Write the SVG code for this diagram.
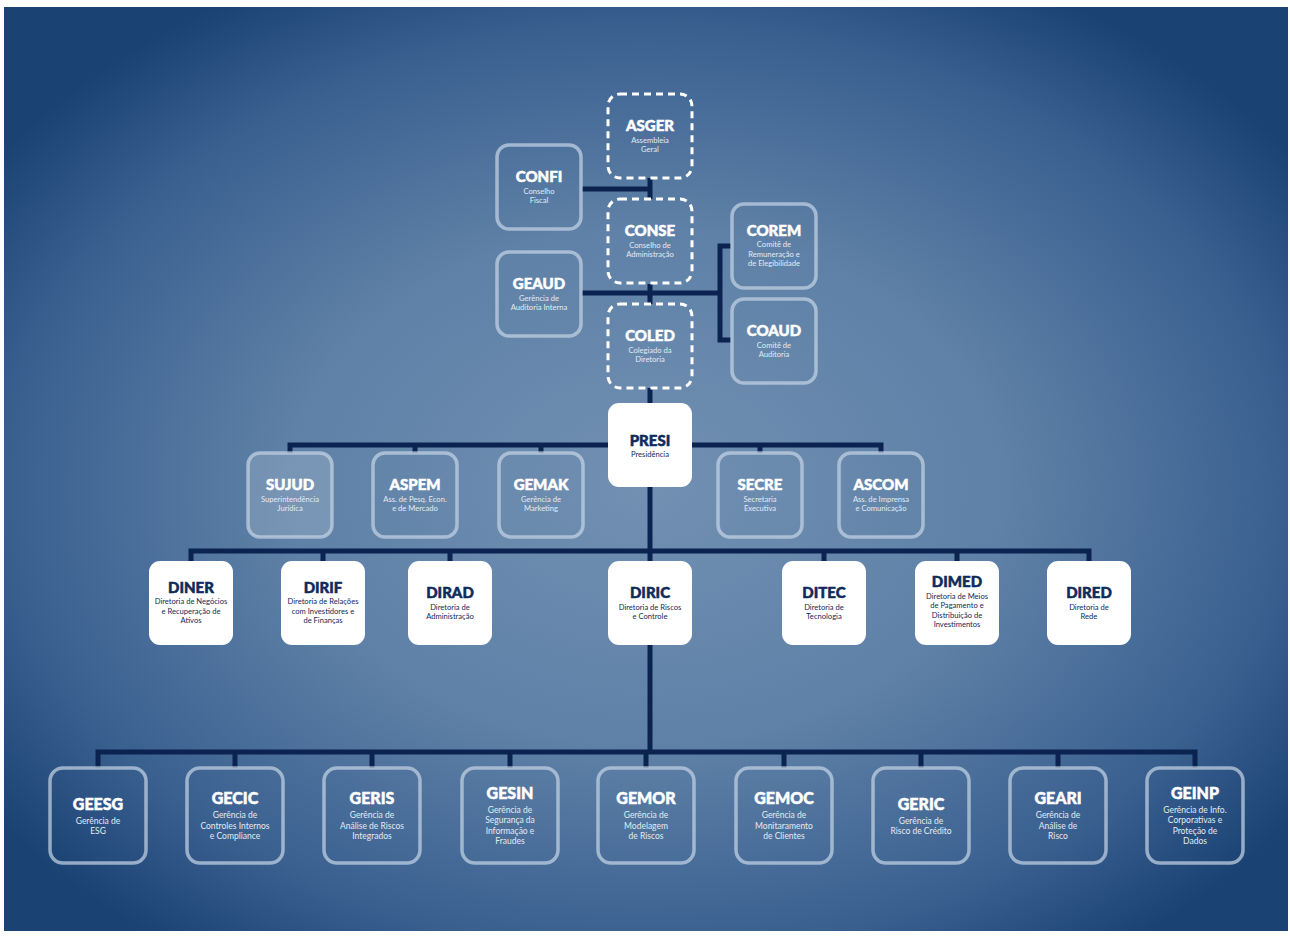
<svg xmlns="http://www.w3.org/2000/svg" width="1290" height="937" viewBox="0 0 1290 937">
<defs>
<radialGradient id="bg" cx="0.5" cy="0.52" r="0.62">
<stop offset="0" stop-color="#7190b2"/>
<stop offset="0.45" stop-color="#5f81a7"/>
<stop offset="0.8" stop-color="#3a6090"/>
<stop offset="1" stop-color="#1a4272"/>
</radialGradient>
<style>
.ob{fill:none;stroke:#c4d2e4;stroke-opacity:.72;stroke-width:3.5}
.lf{fill:#ffffff;fill-opacity:.16}
.db{fill:none;stroke:#ffffff;stroke-width:3;stroke-dasharray:7 5}
.wb{fill:#ffffff}
.t{font-family:Lato,"Open Sans",sans-serif;font-weight:900;font-size:15px;text-anchor:middle;fill:#ffffff;stroke:#ffffff;stroke-width:0.5px}
.tb{font-size:16px}
.s{font-family:Lato,"Open Sans",sans-serif;font-size:7.6px;text-anchor:middle;fill:#e3eaf3}
.sb{font-size:8.5px}
.n{fill:#0f2b5b}
.t.n{stroke:#0f2b5b}
.ln{fill:none;stroke:#0b2350;stroke-width:5}
</style>
</defs>
<rect x="0" y="0" width="1290" height="937" fill="#ffffff"/>
<rect x="4" y="7" width="1284" height="924" fill="url(#bg)"/>

<g id="connectors" class="ln">
<path d="M582 189H650M650 178V199"/>
<path d="M582 293H720M650 284V304"/>
<path d="M731 246H720V340H731"/>
<path d="M650 388V403"/>
<path d="M290 453V445H881V453M415 445V453M541 445V453M760 445V453"/>
<path d="M650 487V561"/>
<path d="M191 561V551H1089V561M323 551V561M450 551V561M824 551V561M957 551V561"/>
<path d="M650 645V752"/>
<path d="M98 768V752H1195V768M235 752V768M372 752V768M510 752V768M646 752V768M784 752V768M921 752V768M1058 752V768"/>
</g>

<g id="ASGER"><rect class="db" x="608" y="94" width="84" height="84" rx="12"/>
<text class="t" x="650" y="131">ASGER</text><text class="s" x="650" y="142.5">Assembleia</text><text class="s" x="650" y="152">Geral</text></g>
<g id="CONFI"><rect class="ob" x="497" y="145" width="84" height="84" rx="12"/>
<text class="t" x="539" y="182">CONFI</text><text class="s" x="539" y="193.5">Conselho</text><text class="s" x="539" y="203">Fiscal</text></g>
<g id="CONSE"><rect class="db" x="608" y="199" width="84" height="84" rx="12"/>
<text class="t" x="650" y="236">CONSE</text><text class="s" x="650" y="247.5">Conselho de</text><text class="s" x="650" y="257">Administração</text></g>
<g id="GEAUD"><rect class="ob" x="497" y="252" width="84" height="84" rx="12"/>
<text class="t" x="539" y="289">GEAUD</text><text class="s" x="539" y="300.5">Gerência de</text><text class="s" x="539" y="310">Auditoria Interna</text></g>
<g id="COLED"><rect class="db" x="608" y="304" width="84" height="84" rx="12"/>
<text class="t" x="650" y="341">COLED</text><text class="s" x="650" y="352.5">Colegiado da</text><text class="s" x="650" y="362">Diretoria</text></g>
<g id="COREM"><rect class="ob" x="732" y="204" width="84" height="84" rx="12"/>
<text class="t" x="774" y="235.5">COREM</text><text class="s" x="774" y="247">Comitê de</text><text class="s" x="774" y="256.5">Remuneração e</text><text class="s" x="774" y="266">de Elegibilidade</text></g>
<g id="COAUD"><rect class="ob" x="732" y="299" width="84" height="84" rx="12"/>
<text class="t" x="774" y="336">COAUD</text><text class="s" x="774" y="347.5">Comitê de</text><text class="s" x="774" y="357">Auditoria</text></g>

<g id="PRESI"><rect class="wb" x="608" y="403" width="84" height="84" rx="11"/>
<text class="t n" x="650" y="445.5">PRESI</text><text class="s n" x="650" y="457">Presidência</text></g>

<g id="SUJUD"><rect class="ob lf" x="248" y="453" width="84" height="84" rx="12"/>
<text class="t" x="290" y="490">SUJUD</text><text class="s" x="290" y="501.5">Superintendência</text><text class="s" x="290" y="511">Jurídica</text></g>
<g id="ASPEM"><rect class="ob" x="373" y="453" width="84" height="84" rx="12"/>
<text class="t" x="415" y="490">ASPEM</text><text class="s" x="415" y="501.5">Ass. de Pesq. Econ.</text><text class="s" x="415" y="511">e de Mercado</text></g>
<g id="GEMAK"><rect class="ob" x="499" y="453" width="84" height="84" rx="12"/>
<text class="t" x="541" y="490">GEMAK</text><text class="s" x="541" y="501.5">Gerência de</text><text class="s" x="541" y="511">Marketing</text></g>
<g id="SECRE"><rect class="ob" x="718" y="453" width="84" height="84" rx="12"/>
<text class="t" x="760" y="490">SECRE</text><text class="s" x="760" y="501.5">Secretaria</text><text class="s" x="760" y="511">Executiva</text></g>
<g id="ASCOM"><rect class="ob" x="839" y="453" width="84" height="84" rx="12"/>
<text class="t" x="881" y="490">ASCOM</text><text class="s" x="881" y="501.5">Ass. de Imprensa</text><text class="s" x="881" y="511">e Comunicação</text></g>

<g id="DINER"><rect class="wb" x="149" y="561" width="84" height="84" rx="11"/>
<text class="t n" x="191" y="592.5">DINER</text><text class="s n" x="191" y="604">Diretoria de Negócios</text><text class="s n" x="191" y="613.5">e Recuperação de</text><text class="s n" x="191" y="623">Ativos</text></g>
<g id="DIRIF"><rect class="wb" x="281" y="561" width="84" height="84" rx="11"/>
<text class="t n" x="323" y="592.5">DIRIF</text><text class="s n" x="323" y="604">Diretoria de Relações</text><text class="s n" x="323" y="613.5">com Investidores e</text><text class="s n" x="323" y="623">de Finanças</text></g>
<g id="DIRAD"><rect class="wb" x="408" y="561" width="84" height="84" rx="11"/>
<text class="t n" x="450" y="598">DIRAD</text><text class="s n" x="450" y="609.5">Diretoria de</text><text class="s n" x="450" y="619">Administração</text></g>
<g id="DIRIC"><rect class="wb" x="608" y="561" width="84" height="84" rx="11"/>
<text class="t n" x="650" y="598">DIRIC</text><text class="s n" x="650" y="609.5">Diretoria de Riscos</text><text class="s n" x="650" y="619">e Controle</text></g>
<g id="DITEC"><rect class="wb" x="782" y="561" width="84" height="84" rx="11"/>
<text class="t n" x="824" y="598">DITEC</text><text class="s n" x="824" y="609.5">Diretoria de</text><text class="s n" x="824" y="619">Tecnologia</text></g>
<g id="DIMED"><rect class="wb" x="915" y="561" width="84" height="84" rx="11"/>
<text class="t n" x="957" y="587">DIMED</text><text class="s n" x="957" y="598.5">Diretoria de Meios</text><text class="s n" x="957" y="608">de Pagamento e</text><text class="s n" x="957" y="617.5">Distribuição de</text><text class="s n" x="957" y="627">Investimentos</text></g>
<g id="DIRED"><rect class="wb" x="1047" y="561" width="84" height="84" rx="11"/>
<text class="t n" x="1089" y="598">DIRED</text><text class="s n" x="1089" y="609.5">Diretoria de</text><text class="s n" x="1089" y="619">Rede</text></g>

<g id="GEESG"><rect class="ob" x="50" y="768" width="96" height="95" rx="13"/>
<text class="t tb" x="98" y="809.5">GEESG</text><text class="s sb" x="98" y="823.5">Gerência de</text><text class="s sb" x="98" y="834">ESG</text></g>
<g id="GECIC"><rect class="ob" x="187" y="768" width="96" height="95" rx="13"/>
<text class="t tb" x="235" y="804">GECIC</text><text class="s sb" x="235" y="818">Gerência de</text><text class="s sb" x="235" y="828.5">Controles Internos</text><text class="s sb" x="235" y="839">e Compliance</text></g>
<g id="GERIS"><rect class="ob" x="324" y="768" width="96" height="95" rx="13"/>
<text class="t tb" x="372" y="804">GERIS</text><text class="s sb" x="372" y="818">Gerência de</text><text class="s sb" x="372" y="828.5">Análise de Riscos</text><text class="s sb" x="372" y="839">Integrados</text></g>
<g id="GESIN"><rect class="ob" x="462" y="768" width="96" height="95" rx="13"/>
<text class="t tb" x="510" y="798.5">GESIN</text><text class="s sb" x="510" y="812.5">Gerência de</text><text class="s sb" x="510" y="823">Segurança da</text><text class="s sb" x="510" y="833.5">Informação e</text><text class="s sb" x="510" y="844">Fraudes</text></g>
<g id="GEMOR"><rect class="ob" x="598" y="768" width="96" height="95" rx="13"/>
<text class="t tb" x="646" y="804">GEMOR</text><text class="s sb" x="646" y="818">Gerência de</text><text class="s sb" x="646" y="828.5">Modelagem</text><text class="s sb" x="646" y="839">de Riscos</text></g>
<g id="GEMOC"><rect class="ob" x="736" y="768" width="96" height="95" rx="13"/>
<text class="t tb" x="784" y="804">GEMOC</text><text class="s sb" x="784" y="818">Gerência de</text><text class="s sb" x="784" y="828.5">Monitaramento</text><text class="s sb" x="784" y="839">de Clientes</text></g>
<g id="GERIC"><rect class="ob" x="873" y="768" width="96" height="95" rx="13"/>
<text class="t tb" x="921" y="809.5">GERIC</text><text class="s sb" x="921" y="823.5">Gerência de</text><text class="s sb" x="921" y="834">Risco de Crédito</text></g>
<g id="GEARI"><rect class="ob" x="1010" y="768" width="96" height="95" rx="13"/>
<text class="t tb" x="1058" y="804">GEARI</text><text class="s sb" x="1058" y="818">Gerência de</text><text class="s sb" x="1058" y="828.5">Análise de</text><text class="s sb" x="1058" y="839">Risco</text></g>
<g id="GEINP"><rect class="ob" x="1147" y="768" width="96" height="95" rx="13"/>
<text class="t tb" x="1195" y="798.5">GEINP</text><text class="s sb" x="1195" y="812.5">Gerência de Info.</text><text class="s sb" x="1195" y="823">Corporativas e</text><text class="s sb" x="1195" y="833.5">Proteção de</text><text class="s sb" x="1195" y="844">Dados</text></g>
</svg>
